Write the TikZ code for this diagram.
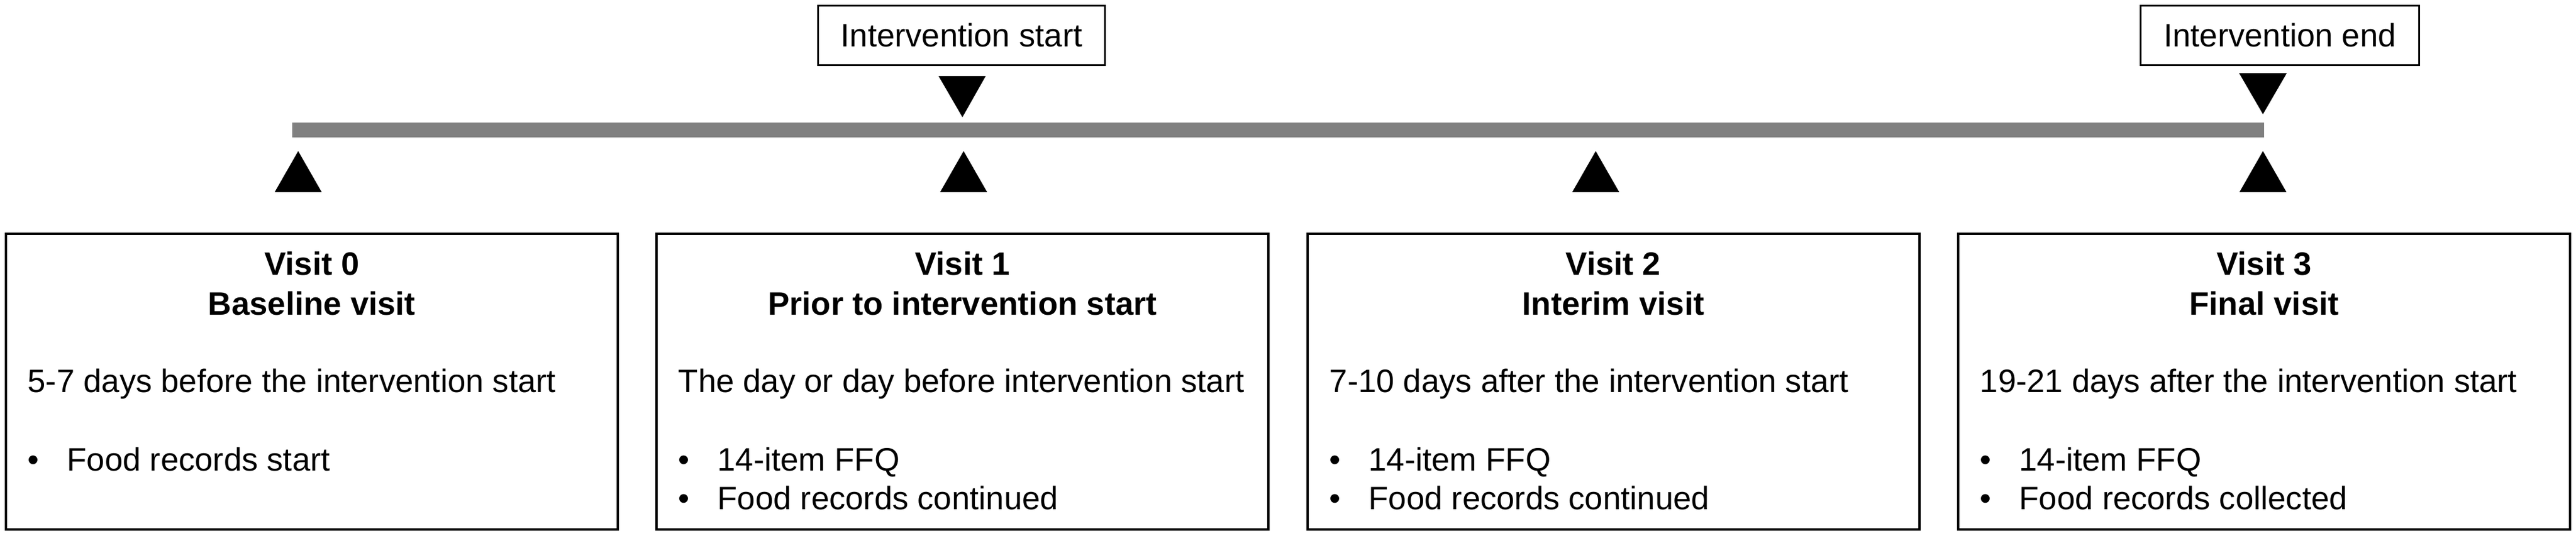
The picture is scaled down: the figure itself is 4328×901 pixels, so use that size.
\documentclass[tikz,border=0pt]{standalone}
\usepackage{fontspec}
\setmainfont{Liberation Sans}
\usepackage{tikz}
\usetikzlibrary{positioning}

\newcommand{\itemdot}{\makebox[0.66cm][l]{•}}

\begin{document}
\begin{tikzpicture}[x=0.1mm,y=-0.1mm,
	visit box/.style={draw,line width=1.15pt,minimum width=10.28cm,minimum height=4.97cm,inner sep=0pt},
	event box/.style={draw,line width=0.85pt,minimum height=1cm,inner sep=0pt},
	title text/.style={anchor=base,inner sep=0pt,font=\bfseries},
	line text/.style={anchor=base west,inner sep=0pt}]
	
	\definecolor{bargray}{RGB}{128,128,128}
	\fontsize{15.5pt}{18.5pt}\selectfont
	
	\useasboundingbox (0,0) rectangle (4328,901);
	
	% timeline
	\coordinate (t0) at (491,218.5);
	\coordinate (t3) at (3804,218.5);
	\draw[bargray,line width=0.25cm] (t0) -- (t3);
	
	% visit markers
	\foreach \x in {501,1619,2681,3802}
		\fill (\x-39.5,323) -- (\x,254) -- (\x+39.5,323) -- cycle;
	
	% intervention markers
	\fill (1577,128) -- (1617,197) -- (1656,128) -- cycle;
	\fill (3762,123) -- (3802,192) -- (3842,123) -- cycle;
	
	\node[event box,minimum width=4.82cm] (istart) at (1615.5,59.5) {Intervention start};
	\node[event box,minimum width=4.68cm] (iend) at (3830.5,59.5) {Intervention end};
	
	\node[visit box] (v0) at (524,641.5) {};
	\node[visit box] (v1) at (1617,641.5) {};
	\node[visit box] (v2) at (2710.5,641.5) {};
	\node[visit box] (v3) at (3804,641.5) {};
	
	\node[title text] (v0a) at (524,463) {Visit 0};
	\node[title text] (v0b) at (524,530) {Baseline visit};
	\node[line text] (v0c) at (46,660) {5-7 days before the intervention start};
	\node[line text] (v0d) at (46,792) {\itemdot Food records start};
	
	\node[title text] (v1a) at (1617,463) {Visit 1};
	\node[title text] (v1b) at (1617,530) {Prior to intervention start};
	\node[line text] (v1c) at (1139,660) {The day or day before intervention start};
	\node[line text] (v1d) at (1139,792) {\itemdot 14-item FFQ};
	\node[line text] (v1e) at (1139,857) {\itemdot Food records continued};
	
	\node[title text] (v2a) at (2710.5,463) {Visit 2};
	\node[title text] (v2b) at (2710.5,530) {Interim visit};
	\node[line text] (v2c) at (2233,660) {7-10 days after the intervention start};
	\node[line text] (v2d) at (2233,792) {\itemdot 14-item FFQ};
	\node[line text] (v2e) at (2233,857) {\itemdot Food records continued};
	
	\node[title text] (v3a) at (3804,463) {Visit 3};
	\node[title text] (v3b) at (3804,530) {Final visit};
	\node[line text] (v3c) at (3326,660) {19-21 days after the intervention start};
	\node[line text] (v3d) at (3326,792) {\itemdot 14-item FFQ};
	\node[line text] (v3e) at (3326,857) {\itemdot Food records collected};
\end{tikzpicture}
\end{document}
